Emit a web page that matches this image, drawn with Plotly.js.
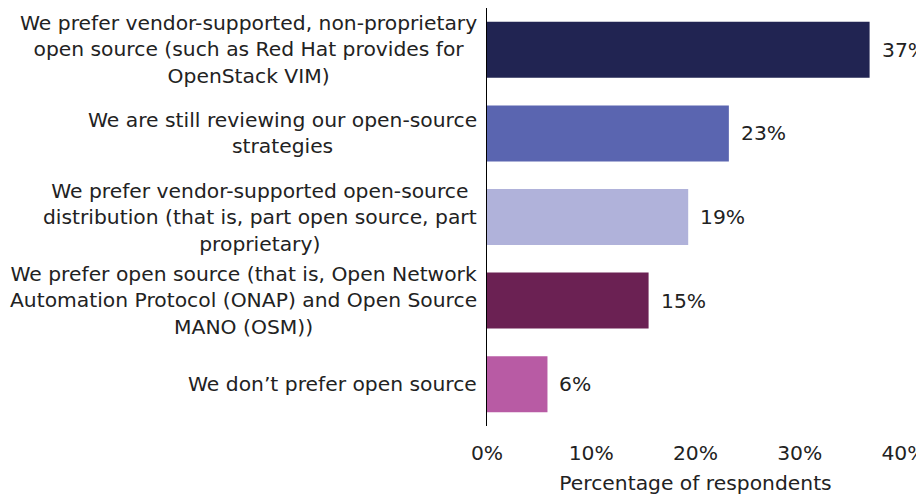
<!DOCTYPE html>
<html>
<head>
<meta charset="utf-8">
<script src="https://cdn.plot.ly/plotly-3.0.1.min.js"></script>
<style>html,body{margin:0;padding:0;background:#fff;}#chart{width:916px;height:497px;}</style>
</head>
<body>
<div id="chart"></div>
<script>
const categories = [
  "We prefer vendor-supported, non-proprietary<br>open source (such as Red Hat provides for<br>OpenStack VIM)",
  "We are still reviewing our open-source<br>strategies",
  "We prefer vendor-supported open-source<br>distribution (that is, part open source, part<br>proprietary)",
  "We prefer open source (that is, Open Network<br>Automation Protocol (ONAP) and Open Source<br>MANO (OSM))",
  "We don’t prefer open source"
];
const values = [36.7, 23.2, 19.3, 15.5, 5.8];
const valueLabels = ["37%", "23%", "19%", "15%", "6%"];
const barColors = ["#212452", "#5a65b0", "#b0b2da", "#6b2153", "#b85ba4"];
const tickVals = [0, 10, 20, 30, 40];
const tickText = ["0%", "10%", "20%", "30%", "40%"];

const FONT = "'DejaVu Sans', 'Open Sans', sans-serif";
const TXT = "#222222";
const FS_CAT = 20.3;
const FS = 20.3;
const ids = categories.map((c, i) => "c" + i);

const trace = {
  type: "bar",
  orientation: "h",
  x: values,
  y: ids,
  marker: {color: barColors},
  hoverinfo: "skip"
};

const annotations = [];
categories.forEach((c, i) => {
  annotations.push({
    xref: "paper", yref: "y", x: 0, y: ids[i],
    text: c, showarrow: false, xanchor: "right", yanchor: "middle",
    align: "center", xshift: -8,
    font: {family: FONT, size: FS_CAT, color: TXT}
  });
  annotations.push({
    xref: "x", yref: "y", x: values[i], y: ids[i],
    text: valueLabels[i], showarrow: false, xanchor: "left", yanchor: "middle",
    xshift: 10,
    font: {family: FONT, size: FS, color: TXT}
  });
});

const layout = {
  width: 916, height: 497,
  margin: {l: 487, r: 12, t: 8, b: 71, pad: 0},
  paper_bgcolor: "#fff", plot_bgcolor: "#fff",
  showlegend: false,
  bargap: 0.33,
  font: {family: FONT, size: FS, color: TXT},
  xaxis: {
    range: [0, 40], tickvals: tickVals, ticktext: tickText,
    showgrid: false, zeroline: false, showline: false, ticks: "",
    ticklabeloverflow: "allow", ticklabelstandoff: 13,
    tickfont: {family: FONT, size: FS, color: TXT},
    title: {text: "Percentage of respondents", font: {family: FONT, size: FS, color: TXT}, standoff: 11},
    fixedrange: true
  },
  yaxis: {
    autorange: "reversed", showticklabels: false, ticks: "",
    showgrid: false, zeroline: false, showline: true, linecolor: "#000", linewidth: 1,
    fixedrange: true
  },
  annotations: annotations
};

Plotly.newPlot("chart", [trace], layout, {displayModeBar: false, staticPlot: true});
</script>
</body>
</html>
